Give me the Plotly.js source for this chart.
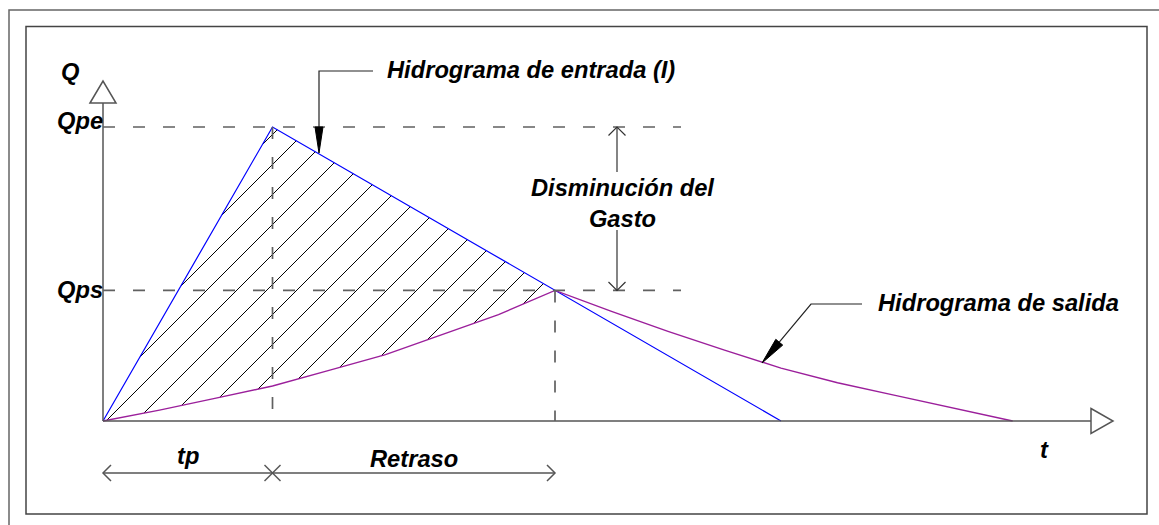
<!DOCTYPE html>
<html>
<head>
<meta charset="utf-8">
<script src="https://cdn.plot.ly/plotly-3.0.1.min.js"></script>
<style>
  html, body { margin: 0; padding: 0; background: #fff; }
  #chart { width: 1159px; height: 525px; }
</style>
</head>
<body>
<div id="chart"></div>
<script>
"use strict";

// hidrograma de entrada (triangular): t en h, Q en unidades de gasto
const tIn = [0, 3, 12];
const qIn = [0, 10, 0];

// hidrograma de salida
const tOut = [0, 1, 2, 3, 4, 5, 6, 7, 8, 9, 10, 11, 12, 13, 14, 15, 16.1];
const qOut = [0, 0.37, 0.78, 1.19, 1.72, 2.26, 2.94, 3.62, 4.44, 3.73, 3.05, 2.41, 1.80, 1.30, 0.88, 0.45, 0];

const tp = 3;        // tiempo pico de entrada
const tCruce = 8;    // fin del retraso (cruce de hidrogramas)
const qpe = 10;      // gasto pico de entrada
const qps = 4.44;    // gasto pico de salida

// page geometry: origin of the diagram in pixels and pixels per unit
const W = 1159, H = 525;
const ox = 103, oy = 421;
const kx = 56.5, ky = 29.4;
const X = px => (px - ox) / kx;
const Y = py => (oy - py) / ky;

const grey = "#555";
const txtFont = {family: "Liberation Sans, Arial, sans-serif", size: 23.7, color: "#000", weight: "bold", style: "italic"};

/**
 * Hatch lines (45 deg on screen) clipped to a closed convex polygon
 */
function hatch(poly, slope, gap, offset) {
  const xs = [], ys = [];
  const cs = poly.map(p => p[0] - p[1] / slope);
  const cMin = Math.min(...cs), cMax = Math.max(...cs);
  for (let k = Math.ceil((cMin - offset) / gap); k * gap + offset <= cMax; k++) {
    const c = k * gap + offset;
    const hits = [];
    for (let i = 0; i < poly.length - 1; i++) {
      const [t1, q1] = poly[i], [t2, q2] = poly[i + 1];
      const f1 = q1 - slope * (t1 - c), f2 = q2 - slope * (t2 - c);
      if (f1 === f2) continue;
      if ((f1 <= 0 && f2 >= 0) || (f1 >= 0 && f2 <= 0)) {
        const r = f1 / (f1 - f2);
        hits.push([t1 + r * (t2 - t1), q1 + r * (q2 - q1)]);
      }
    }
    if (hits.length < 2) continue;
    hits.sort((a, b) => a[0] - b[0]);
    const a = hits[0], b = hits[hits.length - 1];
    if (b[0] - a[0] < 1e-6) continue;
    xs.push(a[0], b[0], null);
    ys.push(a[1], b[1], null);
  }
  return {xs, ys};
}

// area between both hydrographs, up to the crossing
const poly = [];
tIn.forEach((t, i) => { if (t < tCruce) poly.push([t, qIn[i]]); });
for (let i = tOut.length - 1; i >= 0; i--) {
  if (tOut[i] <= tCruce) poly.push([tOut[i], qOut[i]]);
}
const h = hatch(poly, kx / ky, 30 / kx, 3 / kx);

const traces = [
  {x: h.xs, y: h.ys, mode: "lines", line: {color: "#000", width: 1}, connectgaps: false},
  {x: tIn, y: qIn, mode: "lines", line: {color: "#0000ff", width: 1.2}},
  {x: tOut, y: qOut, mode: "lines", line: {color: "#9b1f9b", width: 1.4}},
];

function line(x0, y0, x1, y1, extra) {
  return Object.assign({type: "line", xref: "x", yref: "y", x0, y0, x1, y1,
    line: {color: grey, width: 1.5}}, extra || {});
}
function path(pts, closed, extra) {
  const d = pts.map((p, i) => (i ? "L" : "M") + p[0] + "," + p[1]).join(" ") + (closed ? " Z" : "");
  return Object.assign({type: "path", xref: "x", yref: "y", path: d,
    line: {color: grey, width: 1.5}}, extra || {});
}
const dash = {line: {color: "#606060", width: 1.7, dash: "12px,18px"}};

// leader of "Hidrograma de salida": elbow, then arrow to the outflow curve
const sTip = [762, 363], sElbow = [811, 304];
const sLen = Math.hypot(sElbow[0] - sTip[0], sElbow[1] - sTip[1]);
const ux = (sElbow[0] - sTip[0]) / sLen, uy = (sElbow[1] - sTip[1]) / sLen;
const sBase = [sTip[0] + 27 * ux, sTip[1] + 27 * uy];

const xDim = Y(473);
const shapes = [
  // frames
  {type: "rect", xref: "x", yref: "y", x0: X(9), y0: Y(10), x1: X(1180), y1: Y(545), line: {color: "#666", width: 1.5}},
  {type: "rect", xref: "x", yref: "y", x0: X(26), y0: Y(26.5), x1: X(1147), y1: Y(514), line: {color: "#444", width: 1.5}},
  // axes with hollow arrow heads
  line(0, 0, 0, Y(103)),
  path([[X(90), Y(103)], [0, Y(81)], [X(116), Y(103)]], true),
  line(0, 0, X(1091), 0),
  path([[X(1091), Y(408.5)], [X(1113), 0], [X(1091), Y(433.5)]], true),
  // dashed reference lines
  line(0, qpe, X(681), qpe, dash),
  line(0, qps, X(681), qps, dash),
  line(tp, qpe, tp, 0, dash),
  line(tCruce, qps, tCruce, 0, dash),
  // disminucion del gasto
  line(X(617), qpe, X(617), Y(172), {line: {color: "#333", width: 1.2}}),
  path([[X(608.5), Y(135.5)], [X(617), qpe], [X(625.5), Y(135.5)]], false, {line: {color: "#333", width: 1.2}}),
  line(X(617), Y(230), X(617), qps, {line: {color: "#333", width: 1.2}}),
  path([[X(608.5), qps + 8.5 / ky], [X(617), qps], [X(625.5), qps + 8.5 / ky]], false, {line: {color: "#333", width: 1.2}}),
  // leader of hidrograma de entrada
  path([[X(373), Y(71)], [X(319), Y(71)], [X(319), Y(128)]], false, {line: {color: "#222", width: 1.2}}),
  path([[X(315), Y(127)], [X(319), Y(153)], [X(323), Y(127)]], true, {line: {color: "#000", width: 1}, fillcolor: "#000"}),
  // leader of hidrograma de salida
  path([[X(862), Y(304)], [X(sElbow[0]), Y(sElbow[1])], [X(sBase[0]), Y(sBase[1])]], false, {line: {color: "#222", width: 1.2}}),
  path([[X(sBase[0] - 4.5 * uy), Y(sBase[1] + 4.5 * ux)], [X(sTip[0]), Y(sTip[1])], [X(sBase[0] + 4.5 * uy), Y(sBase[1] - 4.5 * ux)]], true,
    {line: {color: "#000", width: 1}, fillcolor: "#000"}),
  // tp / retraso dimension line
  line(0, xDim, tCruce, xDim),
  path([[X(111), Y(465)], [0, xDim], [X(111), Y(481)]], false),
  path([[tCruce - 8 / kx, Y(465)], [tCruce, xDim], [tCruce - 8 / kx, Y(481)]], false),
  line(tp - 8 / kx, Y(465), tp + 8 / kx, Y(481)),
  line(tp - 8 / kx, Y(481), tp + 8 / kx, Y(465)),
];

function label(text, x, y, xanchor) {
  return {text, x, y, xref: "x", yref: "y", xanchor: xanchor || "center", yanchor: "middle",
    showarrow: false, font: txtFont};
}
const annotations = [
  label("Q", X(70), Y(72)),
  label("Qpe", X(105), Y(121), "right"),
  label("Qps", X(105), Y(290), "right"),
  label("t", X(1044), Y(450)),
  label("tp", (0 + tp) / 2, Y(456)),
  label("Retraso", (tp + tCruce) / 2, Y(459)),
  label("Hidrograma de entrada (I)", X(385), Y(70), "left"),
  label("Hidrograma de salida", X(876), Y(303), "left"),
  label("Disminución del<br>Gasto", X(622), Y(203)),
];

const layout = {
  width: W, height: H,
  margin: {l: 0, r: 0, t: 0, b: 0},
  paper_bgcolor: "#fff", plot_bgcolor: "#fff",
  showlegend: false,
  hovermode: false,
  xaxis: {range: [X(0), X(W)], visible: false, showgrid: false, zeroline: false, fixedrange: true},
  yaxis: {range: [Y(H), Y(0)], visible: false, showgrid: false, zeroline: false, fixedrange: true},
  shapes,
  annotations,
};

Plotly.newPlot("chart", traces, layout, {staticPlot: true, displayModeBar: false});
</script>
</body>
</html>
